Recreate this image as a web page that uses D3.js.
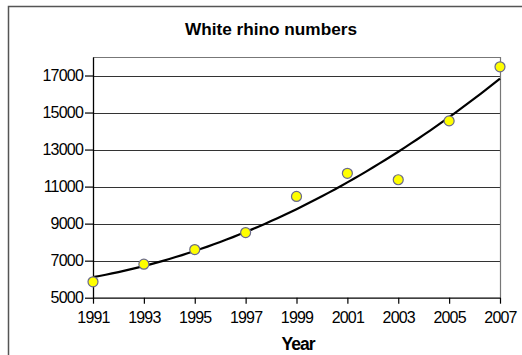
<!DOCTYPE html>
<html>
<head>
<meta charset="utf-8">
<script src="https://cdn.jsdelivr.net/npm/d3@7"></script>
<style>
  body { margin: 0; background: #fff; }
  svg { display: block; font-family: "Liberation Sans", Arial, sans-serif; }
</style>
</head>
<body>
<div id="chart"></div>
<script>
// Data
var years = [1991, 1993, 1995, 1997, 1999, 2001, 2003, 2005, 2007];
var rhinos = [5860, 6810, 7600, 8520, 10470, 11720, 11370, 14550, 17470];
var yTicks = [5000, 7000, 9000, 11000, 13000, 15000, 17000];
var xTicks = [1991, 1993, 1995, 1997, 1999, 2001, 2003, 2005, 2007];

var width = 522, height = 355;
var plot = { left: 93, top: 57, right: 500, bottom: 297.7 };

var svg = d3.select('#chart').append('svg')
            .attr('width', width)
            .attr('height', height);

// outer chart frame (top + left visible)
svg.append('path')
   .attr('d', 'M8.5,' + height + 'V6.5H' + width)
   .attr('fill', 'none')
   .attr('stroke', '#555')
   .attr('stroke-width', 1.5);

var x = d3.scaleLinear().domain([1991, 2007]).range([plot.left, plot.right]);
var y = d3.scaleLinear().domain([5000, 18000]).range([plot.bottom, plot.top]);

// title
svg.append('text')
   .attr('x', 271)
   .attr('y', 35)
   .attr('text-anchor', 'middle')
   .attr('font-size', 17)
   .attr('font-weight', 'bold')
   .attr('textLength', 172)
   .attr('lengthAdjust', 'spacingAndGlyphs')
   .text('White rhino numbers');

// gridlines
svg.append('g')
   .selectAll('line')
   .data(yTicks.slice(1))
   .enter().append('line')
   .attr('x1', plot.left).attr('x2', plot.right)
   .attr('y1', function(d) { return Math.round(y(d)) + 0.5; })
   .attr('y2', function(d) { return Math.round(y(d)) + 0.5; })
   .attr('stroke', '#333')
   .attr('stroke-width', 1.2);

// plot border top/right
svg.append('path')
   .attr('d', 'M' + plot.left + ',' + (plot.top + 0.5) + 'H' + (plot.right + 0.5) + 'V' + plot.bottom)
   .attr('fill', 'none')
   .attr('stroke', '#777')
   .attr('stroke-width', 1.2);

// axes
var yAxis = d3.axisLeft(y).tickValues(yTicks).tickFormat(d3.format('d'))
              .tickSizeInner(8).tickSizeOuter(0).tickPadding(2);
var xAxis = d3.axisBottom(x).tickValues(xTicks).tickFormat(d3.format('d'))
              .tickSizeInner(6).tickSizeOuter(0).tickPadding(8);

var gy = svg.append('g')
   .attr('transform', 'translate(' + plot.left + ',0)')
   .call(yAxis);
var gx = svg.append('g')
   .attr('transform', 'translate(0,' + plot.bottom + ')')
   .call(xAxis);

[gx, gy].forEach(function(g) {
  g.select('.domain').attr('stroke', '#000').attr('stroke-width', 1.3);
  g.selectAll('.tick line').attr('stroke', '#000').attr('stroke-width', 1.2);
  g.selectAll('.tick text')
   .attr('fill', '#000')
   .attr('font-size', 16)
   .attr('letter-spacing', -0.8)
   .attr('font-family', '"Liberation Sans", Arial, sans-serif');
});

// x-axis title
svg.append('text')
   .attr('x', 298)
   .attr('y', 350)
   .attr('text-anchor', 'middle')
   .attr('font-size', 17.5)
   .attr('font-weight', 'bold')
   .attr('letter-spacing', -1)
   .text('Year');

// polynomial (order 2) least-squares trendline from the data
function polyFit(xs, ys) {
  var s = [0, 0, 0, 0, 0], t = [0, 0, 0];
  xs.forEach(function(xv, i) {
    var u = xv - 1999;
    for (var k = 0; k < 5; k++) s[k] += Math.pow(u, k);
    for (var j = 0; j < 3; j++) t[j] += ys[i] * Math.pow(u, j);
  });
  var A = [[s[0], s[1], s[2], t[0]], [s[1], s[2], s[3], t[1]], [s[2], s[3], s[4], t[2]]];
  for (var i = 0; i < 3; i++) {
    for (var r = i + 1; r < 3; r++) {
      var f = A[r][i] / A[i][i];
      for (var c = i; c < 4; c++) A[r][c] -= f * A[i][c];
    }
  }
  var coef = [0, 0, 0];
  for (var i2 = 2; i2 >= 0; i2--) {
    var v = A[i2][3];
    for (var c2 = i2 + 1; c2 < 3; c2++) v -= A[i2][c2] * coef[c2];
    coef[i2] = v / A[i2][i2];
  }
  return function(xv) { var u = xv - 1999; return coef[0] + coef[1] * u + coef[2] * u * u; };
}
var trend = polyFit(years, rhinos);
var trendYears = d3.range(1991, 2007.01, 0.25);

var line = d3.line()
             .x(function(d) { return x(d); })
             .y(function(d) { return y(trend(d)); });

svg.append('path')
   .attr('d', line(trendYears))
   .attr('fill', 'none')
   .attr('stroke', '#000')
   .attr('stroke-width', 2.2)
   .attr('stroke-linejoin', 'round');

// data points
svg.append('g')
   .selectAll('circle')
   .data(years)
   .enter().append('circle')
   .attr('cx', function(d) { return x(d); })
   .attr('cy', function(d, i) { return y(rhinos[i]); })
   .attr('r', 5)
   .attr('fill', '#ffff00')
   .attr('stroke', '#6a6a8c')
   .attr('stroke-width', 1.2);
</script>
</body>
</html>
